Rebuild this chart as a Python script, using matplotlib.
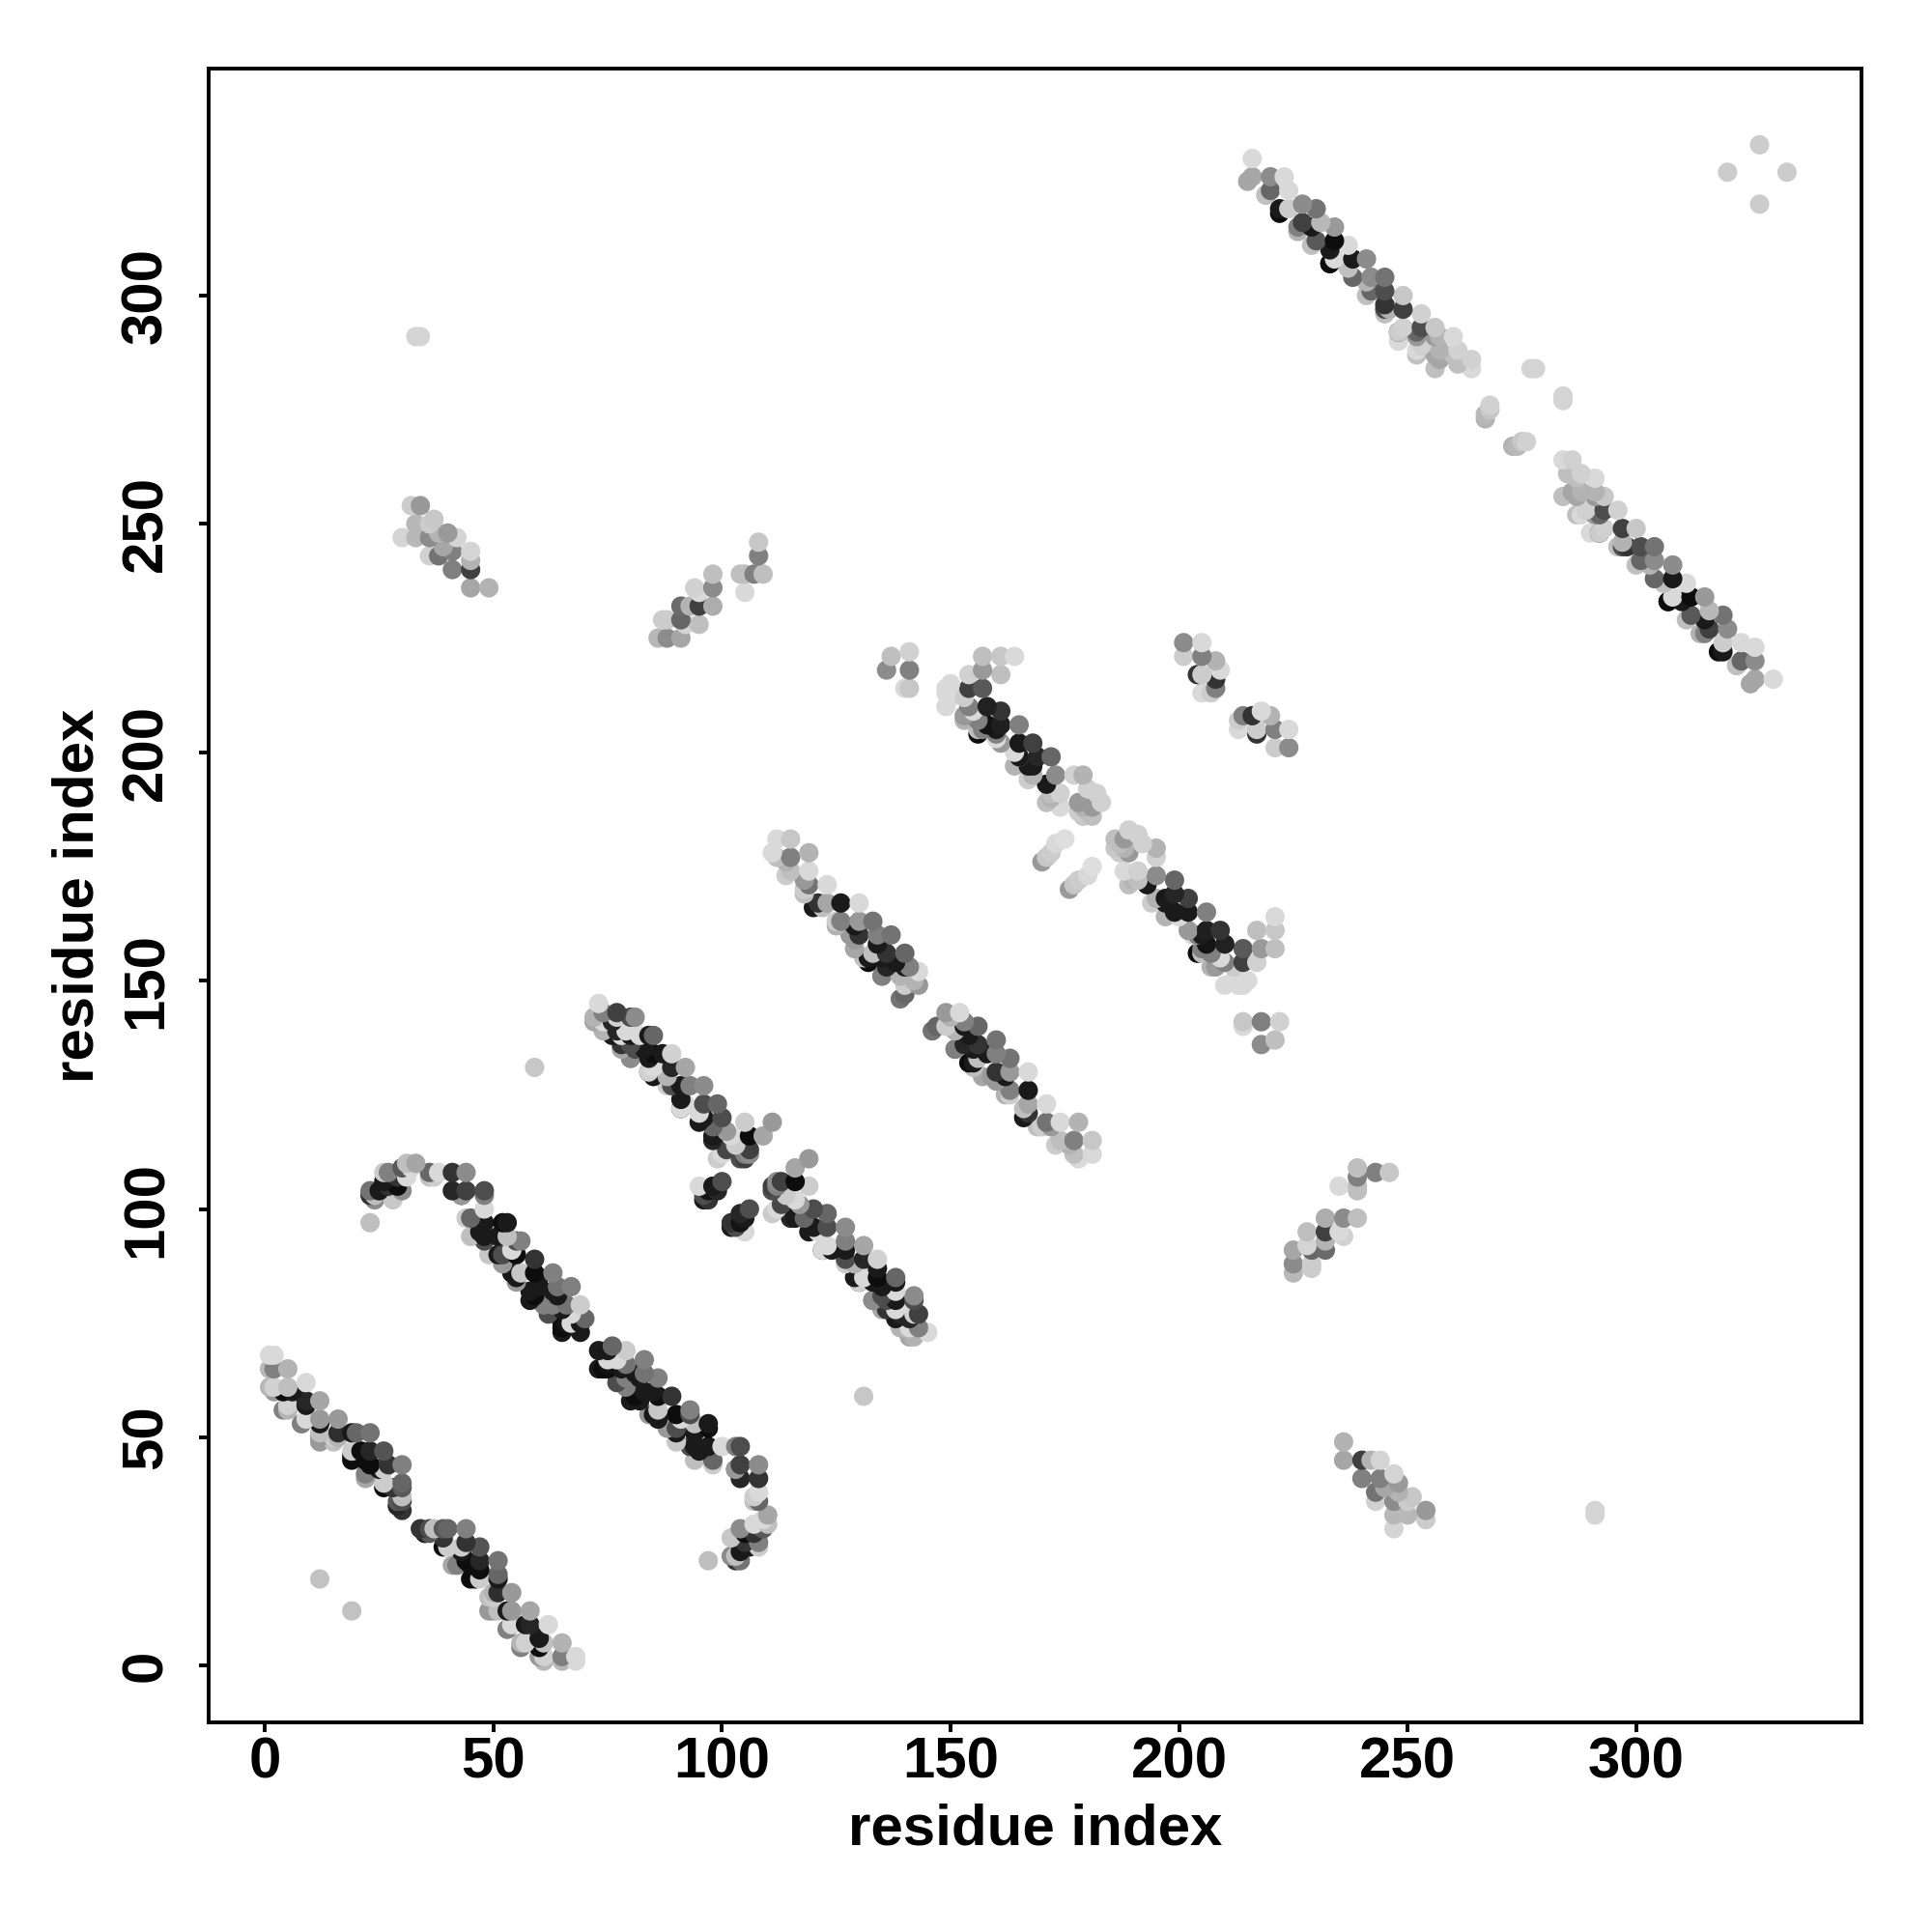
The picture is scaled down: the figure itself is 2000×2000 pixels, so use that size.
import numpy as np
import matplotlib
matplotlib.use("Agg")
import matplotlib.pyplot as plt

plt.rcParams['font.family'] = ['Liberation Sans', 'DejaVu Sans']

# contacts (i < j); the map is symmetric. shade = grey level of the dot
a_i = [1,2,2,1,5,2,1,5,9,4,5,6,9,12,9,8,12,12,16,16,15,20,23,19,19,19,23,26,23,27,30,22,26,26,30,30,29,30,29,
       4,8,12,15,19,22,25,28,21,22,12,12,9,16,5,2,26,30,30,29]
a_j = [68,68,65,65,65,61,61,61,62,56,57,60,58,58,54,53,54,50,54,51,50,51,51,51,47,45,47,47,44,44,44,42,40,39,40,37,35,36,35,
       60,53,49,49,46,41,43,39,47,45,53,51,57,50,56,60,43,39,34,36]
a_g = [.85,.85,.5,.72,.7,.82,.72,.75,.85,.5,.82,.1,.15,.65,.85,.7,.6,.6,.6,.18,.8,.4,.45,.1,.8,.05,.15,.33,.05,.2,.5,.5,.8,.05,.4,.75,.2,.3,.15,
       .05,.5,.6,.75,.05,.65,.1,.2,.05,.05,.1,.75,.1,.7,.7,.6,.8,.35,.2,.35]

b_i = [23,24,23,23,27,26,26,25,28,30,29,31,33,32,30,36,36,38,41,44,41,44,43,48,48,45,44,45,48,48,52,53,49,53,51,56,55,55,59,52,56,55,59,63,60,63,64,67,59,63,66,69,65,66,65,70,69,67,
       24,27,29,31,37,43,48,48,47,51,52,54,55,58,58,61,62,65,65,69,54,60,64,67]
b_j = [104,103,103,97,108,108,106,104,102,104,107,110,110,109,109,108,107,108,108,108,104,104,103,104,100,98,98,94,97,94,97,97,90,94,94,93,93,90,89,90,86,85,86,86,83,82,83,83,81,79,79,79,78,75,74,76,75,75,
       102,105,105,107,107,103,103,93,95,90,88,86,84,82,80,79,77,75,73,73,91,85,81,77]
b_g = [.45,.75,.2,.75,.5,.8,.1,.1,.78,.55,.2,.75,.65,.85,.35,.4,.75,.85,.2,.55,.15,.25,.1,.3,.85,.4,.8,.75,.1,.1,.05,.1,.78,.75,.1,.5,.3,.05,.2,.3,.78,.1,.05,.5,.1,.1,.45,.5,.05,.5,.45,.8,.1,.08,.05,.4,.1,.85,
       .55,.2,.05,.85,.8,.6,.5,.3,.1,.1,.6,.1,.6,.1,.1,.5,.3,.05,.1,.1,.85,.1,.1,.85]

c_i = [73,74,72,74,77,77,81,80,77,78,78,82,80,85,84,81,80,85,89,87,85,84,89,92,89,93,96,91,92,91,96,99,96,100,101,98,105,111,106,109,102,101,106,105,105,99,95,96,97,98,100,
       72,74,76,76,78,79,80,80,83,84,84,85,88,88,91,91,95,95,98,98,103,100,104,106,96,97,99]
c_j = [145,143,142,139,143,142,142,142,139,135,138,138,138,138,138,135,133,134,134,134,131,130,131,131,127,127,127,127,123,122,123,123,120,120,117,115,119,119,116,116,116,113,113,111,112,111,105,103,104,105,106,
       141,141,141,138,136,139,136,133,135,133,130,129,129,127,124,122,121,119,118,116,114,112,111,112,102,102,104]
c_g = [.85,.5,.7,.7,.25,.82,.55,.3,.15,.65,.85,.85,.1,.4,.1,.3,.5,.05,.82,.1,.85,.1,.15,.65,.3,.5,.55,.1,.85,.1,.3,.4,.1,.3,.6,.15,.8,.6,.05,.65,.85,.28,.25,.25,.5,.8,.85,.3,.08,.1,.3,
       .65,.85,.15,.1,.2,.85,.3,.55,.1,.1,.82,.1,.7,.8,.1,.85,.85,.1,.4,.1,.8,.85,.3,.55,.1,.2,.15]

d_i = [112,111,115,115,115,119,119,119,118,123,121,123,126,130,126,125,130,133,130,129,134,137,133,132,136,140,136,135,140,141,143,140,140,143,
       112,114,114,118,118,120,122,125,128,129,131,132,135,135,138,139,139,142,134,129]
d_j = [181,178,181,177,174,178,174,171,170,171,167,167,167,167,163,163,163,163,160,159,160,160,156,155,156,156,153,151,153,153,152,149,147,149,
       177,176,173,172,169,166,166,162,160,157,155,154,155,151,154,151,146,150,158,162]
d_g = [.85,.85,.78,.5,.75,.7,.85,.45,.8,.85,.2,.65,.1,.85,.5,.8,.6,.45,.2,.6,.5,.45,.75,.1,.2,.4,.15,.5,.1,.5,.85,.8,.4,.6,
       .75,.7,.8,.6,.75,.1,.75,.7,.6,.65,.75,.05,.1,.5,.1,.7,.45,.7,.1,.1]

e_i = [150,149,150,154,157,161,164,161,157,154,157,154,155,158,161,158,165,161,157,161,165,168,165,169,172,168,173,172,179,177,174,174,180,182,183,179,180,181,178,172,170,171,172,173,175,
       149,149,153,153,153,156,156,156,160,160,160,164,164,165,167,168,167,171,171,178,179,181]
e_j = [215,214,212,217,221,221,221,217,218,214,214,210,209,210,209,206,206,206,205,202,202,202,199,199,199,195,195,191,195,195,191,188,192,191,189,188,187,188,189,190,176,177,178,180,181,
       213,210,212,208,207,207,205,204,203,204,205,200,197,199,197,197,194,193,189,187,186,186]
e_g = [.85,.85,.85,.82,.75,.78,.85,.75,.6,.25,.35,.5,.85,.13,.2,.08,.5,.12,.5,.6,.1,.25,.7,.15,.4,.7,.55,.75,.7,.82,.82,.85,.82,.82,.82,.7,.75,.6,.6,.7,.6,.78,.8,.85,.87,
       .85,.85,.8,.6,.7,.5,.75,.05,.85,.5,.1,.85,.7,.1,.1,.1,.8,.1,.75,.8,.78,.75]

f_i = [216,216,220,223,220,219,224,227,230,224,222,227,226,231,234,230,234,237,234,233,238,241,238,242,245,242,245,249,246,245,249,253,249,248,253,253,252,256,257,257,257,260,261,261,264,264,277,278,267,267,268,268,
       215,219,222,226,229,233,237,241,241,245,245,248,248,252,252,252,256,256,260,256,233,229]
f_j = [330,326,326,326,323,322,323,320,319,319,319,316,315,316,315,312,312,311,308,307,308,308,304,304,304,301,301,300,297,297,297,296,293,292,293,289,291,293,291,288,286,291,288,285,286,284,284,284,273,274,275,276,
       325,322,318,314,311,307,306,303,300,296,298,292,290,292,288,287,291,287,287,284,310,315]
f_g = [.85,.65,.55,.85,.4,.7,.85,.55,.45,.8,.1,.25,.5,.72,.6,.35,.05,.85,.85,.1,.1,.55,.4,.55,.45,.4,.3,.78,.7,.3,.25,.82,.82,.15,.3,.82,.6,.78,.7,.7,.65,.85,.82,.75,.82,.85,.83,.83,.7,.72,.78,.82,
       .65,.75,.05,.7,.75,.05,.75,.7,.75,.75,.2,.8,.85,.4,.85,.75,.6,.65,.75,.75,.1,.1]

g_i = [32,34,33,30,33,37,36,38,36,36,38,42,40,41,39,45,45,41,45,45,49]
g_j = [254,254,250,247,247,251,250,248,247,243,243,247,248,244,245,244,242,240,240,236,236]
g_g = [.8,.6,.72,.83,.72,.78,.8,.7,.55,.82,.45,.83,.6,.5,.65,.83,.7,.5,.25,.65,.7]

h_i = [87,88,91,91,92,88,86,91,95,94,95,98,98,95,98,93,104,105,105,109,107,108,108]
h_j = [229,229,232,229,228,225,225,225,228,236,235,239,236,232,232,232,239,239,235,239,239,243,246]
h_g = [.8,.8,.42,.4,.83,.55,.72,.65,.75,.82,.85,.75,.55,.25,.68,.7,.75,.75,.85,.75,.5,.5,.78]

i_i = [136,137,141,141,141,140]
i_j = [218,221,214,218,222,214]
i_g = [.55,.75,.78,.5,.82,.85]

j_i = [201,205,201,205,208,205,209,204,208,205,208,207]
j_j = [224,224,221,221,220,217,218,217,216,213,214,213]
j_g = [.55,.85,.8,.5,.7,.8,.85,.2,.2,.85,.5,.8]

k_i = [320,327,33,34,59,12]
k_j = [327,333,291,291,131,19]
k_g = [.8,.8,.83,.83,.78,.76]

axis_label = "residue index"
tick_values = [0, 50, 100, 150, 200, 250, 300]

res_i = np.array(a_i + b_i + c_i + d_i + e_i + f_i + g_i + h_i + i_i + j_i + k_i, float)
res_j = np.array(a_j + b_j + c_j + d_j + e_j + f_j + g_j + h_j + i_j + j_j + k_j, float)
shade = np.array(a_g + b_g + c_g + d_g + e_g + f_g + g_g + h_g + i_g + j_g + k_g, float)

x = np.concatenate([res_i, res_j])
y = np.concatenate([res_j, res_i])
s = np.concatenate([shade, shade])
order = np.lexsort((x, y))

fig = plt.figure(figsize=(10, 10), dpi=200)
ax = fig.add_axes([215.6/2000, 1 - 1783/2000, (1927 - 215.6)/2000, (1783 - 71.4)/2000])
ax.scatter(x[order], y[order], c=np.stack([s[order]]*3, axis=1), s=52, linewidths=0, zorder=2)

ax.set_xlim(-12.4, 349.3)
ax.set_ylim(-12.4, 349.6)
ax.set_xticks(tick_values)
ax.set_yticks(tick_values)
ax.tick_params(length=3.6, width=1.4, labelsize=21.6)
ax.tick_params(axis='x', pad=1.7)
ax.tick_params(axis='y', pad=9.4)
for t in ax.get_xticklabels():
    t.set_fontweight('bold')
for t in ax.get_yticklabels():
    t.set_fontweight('bold')
    t.set_rotation(90)
    t.set_va('center')
for sp in ax.spines.values():
    sp.set_linewidth(1.4)
ax.set_xlabel(axis_label, fontsize=21.6, fontweight='bold', labelpad=5.0)
ax.set_ylabel(axis_label, fontsize=21.6, fontweight='bold', labelpad=5.7)
fig.savefig("out.png", dpi=200, facecolor='white')
